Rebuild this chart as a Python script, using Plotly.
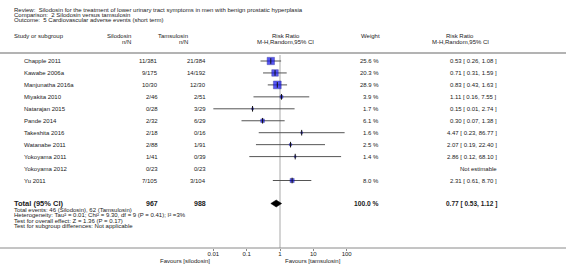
import plotly.graph_objects as go
import math

W, H = 566, 265

studies = ["Chapple 2011", "Kawabe 2006a", "Manjunatha 2016a", "Miyakita 2010", "Natarajan 2015",
           "Pande 2014", "Takeshita 2016", "Watanabe 2011", "Yokoyama 2011", "Yokoyama 2012", "Yu 2011"]
silo_nN = ["11/381", "9/175", "10/30", "2/46", "0/28", "2/32", "2/18", "2/88", "1/41", "0/23", "7/105"]
tams_nN = ["21/384", "14/192", "12/30", "2/51", "3/29", "6/29", "0/16", "1/91", "0/39", "0/23", "3/104"]
weights = [25.6, 20.3, 28.9, 3.9, 1.7, 6.1, 1.6, 2.5, 1.4, None, 8.0]
rr = [0.53, 0.71, 0.83, 1.11, 0.15, 0.30, 4.47, 2.07, 2.86, None, 2.31]
lo = [0.26, 0.31, 0.43, 0.16, 0.01, 0.07, 0.23, 0.19, 0.12, None, 0.61]
hi = [1.08, 1.59, 1.63, 7.55, 2.74, 1.38, 86.77, 22.40, 68.10, None, 8.70]

total_silo = "967"
total_tams = "988"
total_weight = "100.0 %"
total_rr, total_lo, total_hi = 0.77, 0.53, 1.12

tick_vals = [0.01, 0.1, 1, 10, 100]
tick_text = ["0.01", "0.1", "1", "10", "100"]

title_lines = [
    "Review:  Silodosin for the treatment of lower urinary tract symptoms in men with benign prostatic hyperplasia",
    "Comparison:  2 Silodosin versus tamsulosin",
    "Outcome:  5 Cardiovascular adverse events (short term)",
]
foot_lines = [
    "Total events: 46 (Silodosin), 62 (Tamsulosin)",
    "Heterogeneity: Tau\u00b2 = 0.01; Chi\u00b2 = 9.30, df = 9 (P = 0.41); I\u00b2 =3%",
    "Test for overall effect: Z = 1.36 (P = 0.17)",
    "Test for subgroup differences: Not applicable",
]

FONT = "Liberation Sans, Arial, sans-serif"
TXT = "#1a1a1a"

# layout positions (pixels)
row_y0, row_step = 61, 11.95
row_y = [row_y0 + i * row_step for i in range(len(studies))]
total_y = 203.5
x_study, x_total = 23, 13
x_silo, x_tams = 159, 207
x_weight = 380
x_rr_right = 498

fig = go.Figure()

ann = []
def txt(x, y, s, anchor="left", size=6, bold=False):
    ann.append(dict(x=x / W, y=y, xref="paper", yref="y", text=("<b>%s</b>" % s) if bold else s,
                    showarrow=False, xanchor=anchor, yanchor="middle", borderpad=0,
                    font=dict(family=FONT, size=size, color=TXT)))

for i, t in enumerate(title_lines):
    txt(13, 9.5 + i * 5.3, t)

txt(13, 36, "Study or subgroup")
txt(132, 36, "Silodosin", "right")
txt(132, 42, "n/N", "right")
txt(189, 36, "Tamsulosin", "right")
txt(189, 42, "n/N", "right")
txt(286, 36, "Risk Ratio", "center")
txt(285, 42, "M-H,Random,95% CI", "center")
txt(370, 36, "Weight", "center")
txt(460, 36, "Risk Ratio", "center")
txt(460, 42, "M-H,Random,95% CI", "center")

for i, s in enumerate(studies):
    y = row_y[i]
    txt(x_study, y, s)
    txt(x_silo, y, silo_nN[i], "right")
    txt(x_tams, y, tams_nN[i], "right")
    if rr[i] is None:
        txt(x_rr_right, y, "Not estimable", "right")
    else:
        txt(x_weight, y, "%.1f %%" % weights[i], "right")
        txt(x_rr_right, y, "%.2f [ %.2f, %.2f ]" % (rr[i], lo[i], hi[i]), "right")

txt(x_total, total_y, "Total (95% CI)", size=7.5, bold=True)
txt(x_silo, total_y, total_silo, "right", size=7, bold=True)
txt(x_tams, total_y, total_tams, "right", size=7, bold=True)
txt(x_weight, total_y, total_weight, "right", size=6.7, bold=True)
txt(x_rr_right, total_y, "%.2f [ %.2f, %.2f ]" % (total_rr, total_lo, total_hi), "right", size=6.5, bold=True)

for i, t in enumerate(foot_lines):
    txt(13, 210 + i * 5.3, t)

txt(211, 261, "Favours [silodosin]", "right")
txt(284, 261, "Favours [tamsulosin]", "left")

# CI lines
cx, cy = [], []
for i in range(len(studies)):
    if rr[i] is None:
        continue
    cx += [lo[i], hi[i], None]
    cy += [row_y[i], row_y[i], None]
fig.add_trace(go.Scatter(x=cx, y=cy, mode="lines", line=dict(color="#555555", width=1),
                         hoverinfo="skip", showlegend=False))

# weight squares
sx = [rr[i] for i in range(len(studies)) if rr[i] is not None]
sy = [row_y[i] for i in range(len(studies)) if rr[i] is not None]
ss = [1.45 * math.sqrt(weights[i]) for i in range(len(studies)) if rr[i] is not None]
fig.add_trace(go.Scatter(x=sx, y=sy, mode="markers",
                         marker=dict(symbol="square", size=ss, color="#1010f0",
                                     line=dict(color="#000080", width=0.5)),
                         hoverinfo="skip", showlegend=False))
# center ticks
fig.add_trace(go.Scatter(x=sx, y=sy, mode="markers",
                         marker=dict(symbol="line-ns", size=4, line=dict(color="#111111", width=1)),
                         hoverinfo="skip", showlegend=False))
# diamond
fig.add_trace(go.Scatter(x=[total_lo, total_rr, total_hi, total_rr, total_lo],
                         y=[total_y, total_y - 3.5, total_y, total_y + 3.5, total_y],
                         mode="lines", fill="toself", fillcolor="#000000",
                         line=dict(color="#000000", width=0.5), hoverinfo="skip", showlegend=False))

shapes = [
    dict(type="line", xref="paper", yref="y", x0=0, x1=1, y0=53, y1=53, line=dict(color="#9a9a9a", width=1.5)),
    dict(type="line", xref="paper", yref="y", x0=0, x1=1, y0=248, y1=248, line=dict(color="#8a8a8a", width=1)),
    dict(type="line", xref="x", yref="y", x0=1, x1=1, y0=55, y1=248, line=dict(color="#d4d4d4", width=2), layer="below"),
]

fig.update_layout(
    width=W, height=H, margin=dict(l=0, r=0, t=0, b=0),
    paper_bgcolor="white", plot_bgcolor="rgba(0,0,0,0)",
    annotations=ann, shapes=shapes,
    xaxis=dict(type="log", domain=[180 / W, 380 / W], range=[-3, 3], anchor="free",
               position=(H - 248) / H, showgrid=False, zeroline=False, showline=False,
               tickvals=tick_vals, ticktext=tick_text, ticks="outside", ticklen=2,
               tickcolor="#888888", tickwidth=1, ticklabelstandoff=-2,
               tickfont=dict(family=FONT, size=6, color=TXT)),
    yaxis=dict(range=[H, 0], domain=[0, 1], visible=False),
    showlegend=False,
)

fig.write_html("out.html", config={"displayModeBar": False, "staticPlot": True},
               post_script="document.body.style.margin='0';document.body.style.overflow='hidden';")
